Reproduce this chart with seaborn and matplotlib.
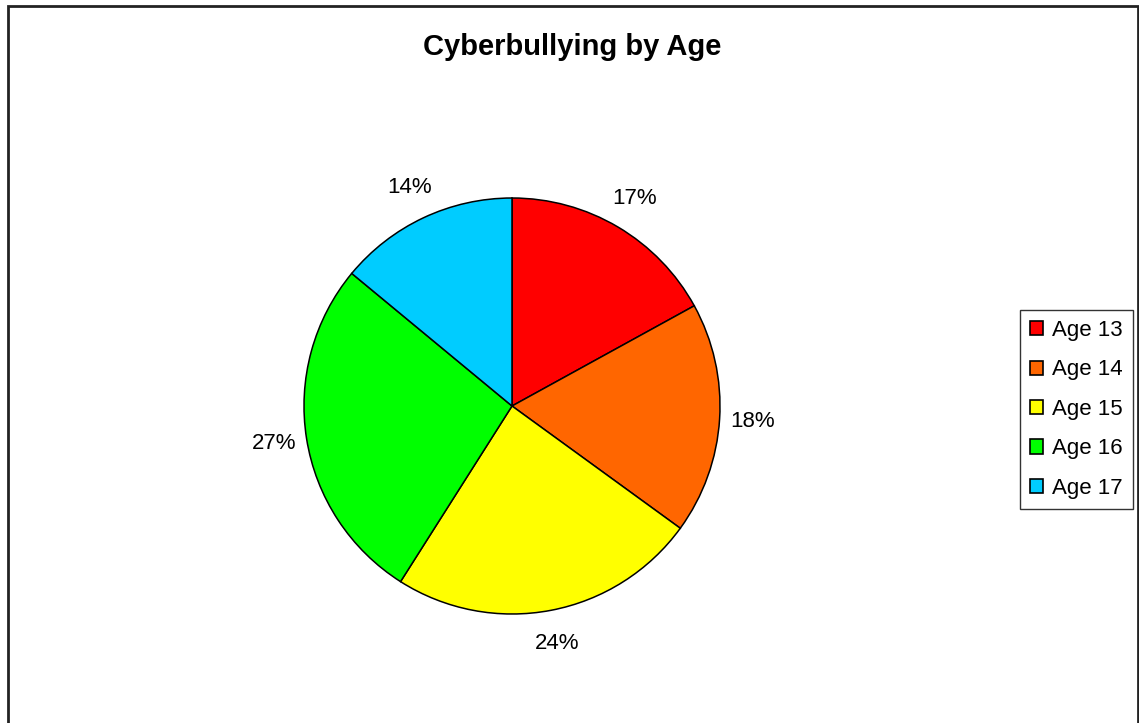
import matplotlib
matplotlib.use("Agg")
import matplotlib.pyplot as plt
import seaborn as sns
from matplotlib.patches import Patch, Rectangle

# datos
edades = ["Age 13", "Age 14", "Age 15", "Age 16", "Age 17"]
porcentajes = [17, 18, 24, 27, 14]
colores = ["#FF0000", "#FF6600", "#FFFF00", "#00FF00", "#00CCFF"]

sns.set_style("white")
plt.rcParams["font.family"] = ["Liberation Sans", "DejaVu Sans"]
plt.rcParams["text.color"] = "black"

paleta = sns.color_palette(colores)

fig = plt.figure(figsize=(11.39, 7.23), dpi=100)

# eje del pie: centro (512, 406) px, radio 208 px
W, H = 1139, 723
cx, cy, r = 512, 406, 208
ax = fig.add_axes([(cx - r) / W, (H - cy - r) / H, 2 * r / W, 2 * r / H])

etiquetas = [f"{p}%" for p in porcentajes]
wedges, textos = ax.pie(
    porcentajes, colors=paleta, startangle=90, counterclock=False,
    labels=etiquetas, labeldistance=1.16,
    wedgeprops={"edgecolor": "black", "linewidth": 1.1},
    textprops={"fontsize": 16, "color": "black"},
)
for t in textos:
    t.set_ha("center")
    t.set_va("center")
ax.set_xlim(-1, 1)
ax.set_ylim(-1, 1)
ax.set_aspect("equal")
ax.axis("off")

# titulo
fig.text(572 / W, 1 - 47 / H, "Cyberbullying by Age", ha="center", va="center",
         fontsize=21, fontweight="bold", color="black")

# leyenda a la derecha
handles = [Patch(facecolor=c, edgecolor="black", linewidth=1.2) for c in paleta]
leg = fig.legend(handles, edades, loc="upper left",
                 bbox_to_anchor=(1020 / W, 1 - 310 / H), bbox_transform=fig.transFigure,
                 borderaxespad=0, fontsize=16, frameon=True, fancybox=False,
                 handlelength=0.6, handleheight=0.6, handletextpad=0.4,
                 labelspacing=0.83, borderpad=0.45, labelcolor="black")
leg.get_frame().set_edgecolor("black")
leg.get_frame().set_linewidth(1.0)

# marco exterior del grafico
fig.patches.append(Rectangle((7.5 / W, -0.02), (1137.5 - 7.5) / W, 1 - 5.5 / H + 0.02,
                             transform=fig.transFigure, fill=False,
                             edgecolor="#222222", linewidth=2))

plt.savefig("out.png", dpi=100)
